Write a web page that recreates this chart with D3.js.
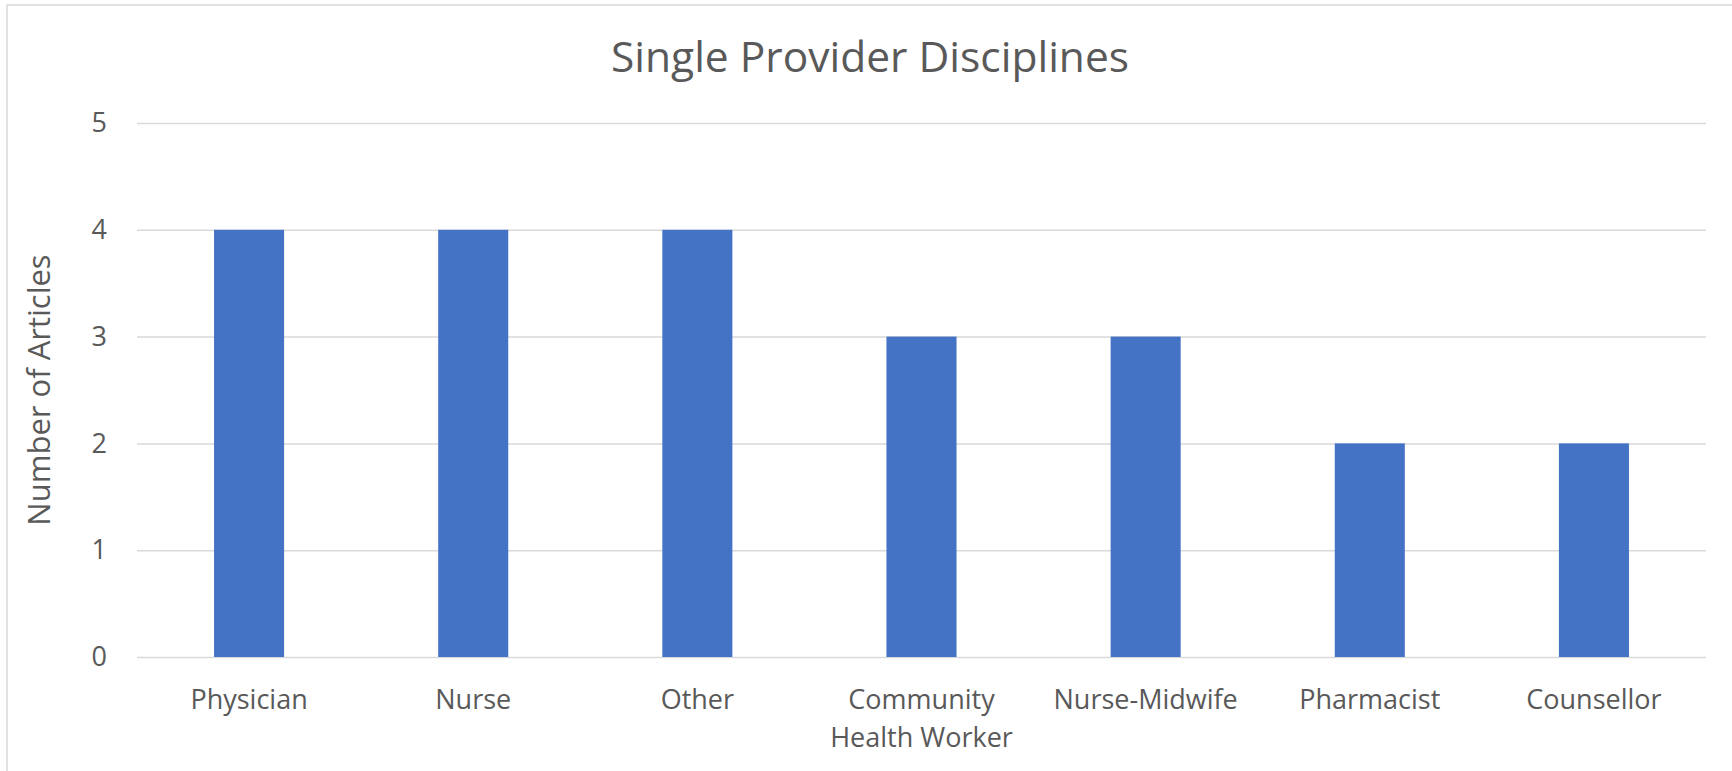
<!DOCTYPE html>
<html>
<head>
<meta charset="utf-8">
<script src="https://cdn.jsdelivr.net/npm/d3@7"></script>
<style>
  html, body { margin: 0; padding: 0; background: #fff; }
  svg { display: block; font-family: "Open Sans", "Noto Sans", sans-serif; }
</style>
</head>
<body>
<svg id="chart" width="1732" height="771"></svg>
<script>
const categories = [
  "Physician",
  "Nurse",
  "Other",
  "Community Health Worker",
  "Nurse-Midwife",
  "Pharmacist",
  "Counsellor",
];
const articleCounts = [4, 4, 4, 3, 3, 2, 2];
const yTicks = [0, 1, 2, 3, 4, 5];
// wrapped labels, as they show under the axis
const labelLines = {
  "Community Health Worker": ["Community", "Health Worker"],
};

const width = 1732;
const height = 771;
const margin = { top: 123, right: 26, bottom: 114, left: 137 };
const textColor = "#595959";
const gridColor = "#d9d9d9";
const barColor = "#4472c4";

const svg = d3.select("#chart");

// outer chart border (right & bottom run off the picture)
svg
  .append("rect")
  .attr("x", 7)
  .attr("y", 5)
  .attr("width", width)
  .attr("height", height)
  .attr("fill", "#fff")
  .attr("stroke", gridColor)
  .attr("stroke-width", 1.5);

const scaleX = d3
  .scaleBand()
  .domain(categories)
  .range([margin.left, width - margin.right])
  .paddingInner(0.6875)
  .paddingOuter(0.34375);

const scaleY = d3
  .scaleLinear()
  .domain([0, 5])
  .range([height - margin.bottom, margin.top]);

// Draw gridlines
const yGrid = d3
  .axisLeft(scaleY)
  .tickValues(yTicks)
  .tickSize(-(width - margin.right - margin.left))
  .tickFormat("");
const gridG = svg
  .append("g")
  .attr("transform", `translate(${margin.left},0)`)
  .call(yGrid);
gridG.select(".domain").remove();
gridG
  .selectAll(".tick line")
  .attr("stroke", gridColor)
  .attr("stroke-width", 1.5);

// Draw y tick labels
const yAxis = d3
  .axisLeft(scaleY)
  .tickValues(yTicks)
  .tickFormat(d3.format("d"))
  .tickSize(0)
  .tickPadding(30);
const yAxisG = svg
  .append("g")
  .attr("transform", `translate(${margin.left},0)`)
  .call(yAxis);
yAxisG.select(".domain").remove();
yAxisG
  .selectAll(".tick text")
  .attr("fill", textColor)
  .attr("font-size", 27)
  .attr("font-family", "Open Sans");

// Draw bars
svg
  .append("g")
  .selectAll("rect")
  .data(categories)
  .join("rect")
  .attr("x", (d) => scaleX(d))
  .attr("y", (d, i) => scaleY(articleCounts[i]))
  .attr("width", scaleX.bandwidth())
  .attr("height", (d, i) => scaleY(0) - scaleY(articleCounts[i]))
  .attr("fill", barColor);

// Draw x labels
const xAxis = d3.axisBottom(scaleX).tickSize(0).tickFormat("");
const xAxisG = svg
  .append("g")
  .attr("transform", `translate(0,${scaleY(0)})`)
  .call(xAxis);
xAxisG.select(".domain").remove();
xAxisG.selectAll(".tick").each(function (d) {
  const lines = labelLines[d] || [d];
  const t = d3
    .select(this)
    .append("text")
    .attr("fill", textColor)
    .attr("font-size", 27)
    .attr("font-family", "Open Sans")
    .attr("text-anchor", "middle");
  lines.forEach((line, i) => {
    t.append("tspan")
      .attr("x", 0)
      .attr("y", 52 + i * 37.5)
      .text(line);
  });
});

// Title
svg
  .append("text")
  .attr("x", 870)
  .attr("y", 72)
  .attr("text-anchor", "middle")
  .attr("fill", textColor)
  .attr("font-size", 42.5)
  .text("Single Provider Disciplines");

// Y axis title
svg
  .append("text")
  .attr("transform", `translate(50,${(scaleY(0) + scaleY(5)) / 2}) rotate(-90)`)
  .attr("text-anchor", "middle")
  .attr("fill", textColor)
  .attr("font-size", 31)
  .text("Number of Articles");
</script>
</body>
</html>
